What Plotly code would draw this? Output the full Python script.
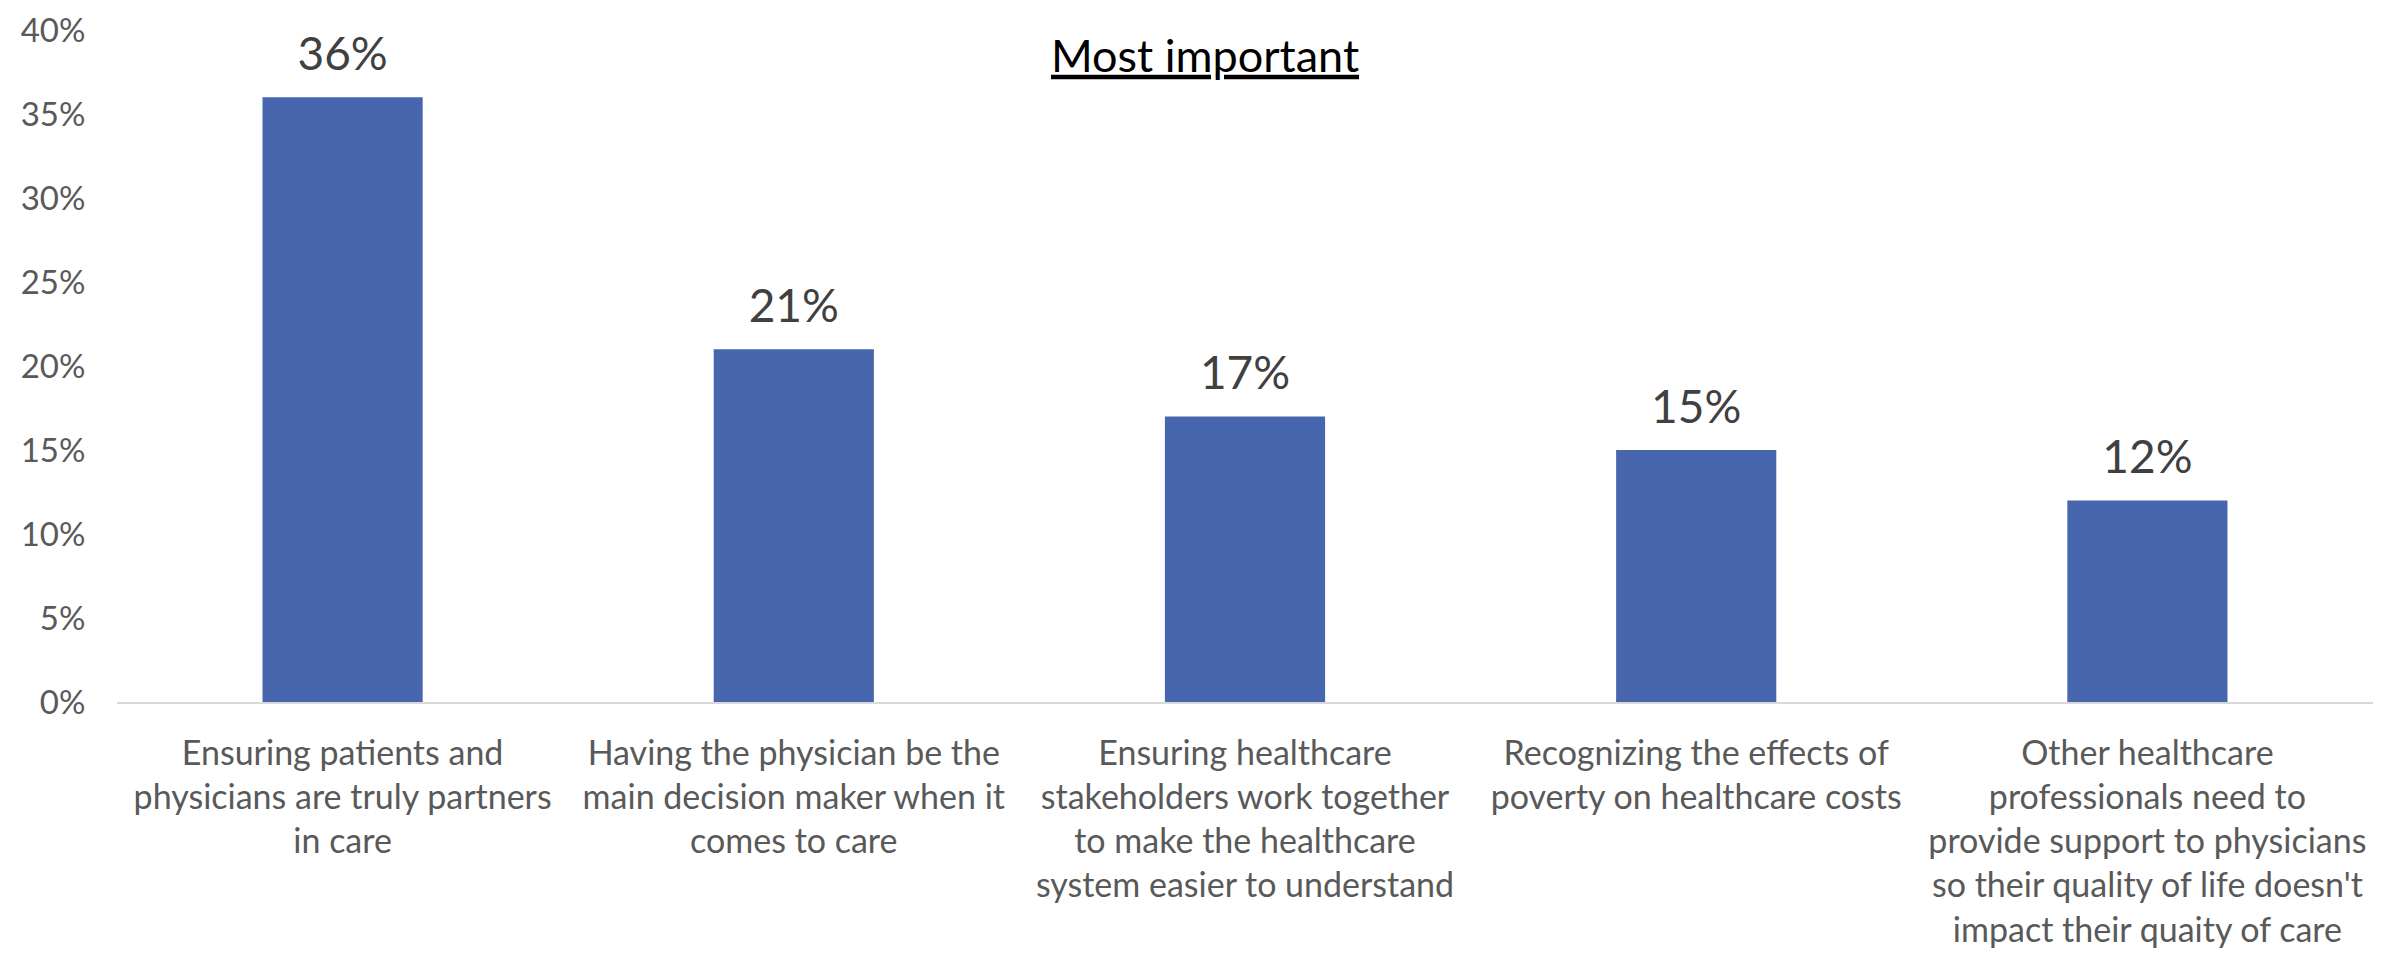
import plotly.graph_objects as go

categories = [
    "Ensuring patients and<br>physicians are truly partners<br>in care",
    "Having the physician be the<br>main decision maker when it<br>comes to care",
    "Ensuring healthcare<br>stakeholders work together<br>to make the healthcare<br>system easier to understand",
    "Recognizing the effects of<br>poverty on healthcare costs",
    "Other healthcare<br>professionals need to<br>provide support to physicians<br>so their quality of life doesn't<br>impact their quaity of care",
]
values = [0.36, 0.21, 0.17, 0.15, 0.12]
title_text = "Most important"

FONT = "Lato"

fig = go.Figure()
fig.add_trace(
    go.Bar(
        x=categories,
        y=values,
        marker=dict(color="#4866AD", line=dict(width=0)),
        width=0.355,
        hoverinfo="skip",
    )
)
fig.add_trace(
    go.Scatter(
        x=categories,
        y=values,
        mode="markers+text",
        marker=dict(size=24, color="rgba(0,0,0,0)"),
        texttemplate="%{y:.0%}",
        textposition="top center",
        textfont=dict(family=FONT, size=46, color="#404040"),
        cliponaxis=False,
        hoverinfo="skip",
    )
)

fig.update_layout(
    width=2394,
    height=945,
    margin=dict(l=109, r=29, t=22, b=251, autoexpand=False),
    paper_bgcolor="white",
    plot_bgcolor="white",
    showlegend=False,
    font=dict(family=FONT, color="#595959"),
    title=dict(
        text="<u>" + title_text + "</u>",
        x=0.5,
        xref="container",
        xanchor="center",
        y=1 - 48 / 945,
        yref="container",
        yanchor="middle",
        font=dict(family=FONT, size=45, color="black"),
    ),
)

fig.update_yaxes(
    range=[0, 0.4],
    dtick=0.05,
    tickformat=".0%",
    showgrid=False,
    zeroline=False,
    showline=False,
    automargin=False,
    ticklabeloverflow="allow",
    ticks="outside",
    ticklen=24,
    tickcolor="rgba(0,0,0,0)",
    tickfont=dict(family=FONT, size=33, color="#595959"),
)

fig.update_xaxes(
    showline=True,
    linecolor="#D9D9D9",
    linewidth=2,
    showgrid=False,
    automargin=False,
    ticklabeloverflow="allow",
    ticks="outside",
    ticklen=20,
    tickcolor="rgba(0,0,0,0)",
    tickangle=0,
    tickfont=dict(family=FONT, size=34, color="#595959"),
)

fig.write_html("out.html")
